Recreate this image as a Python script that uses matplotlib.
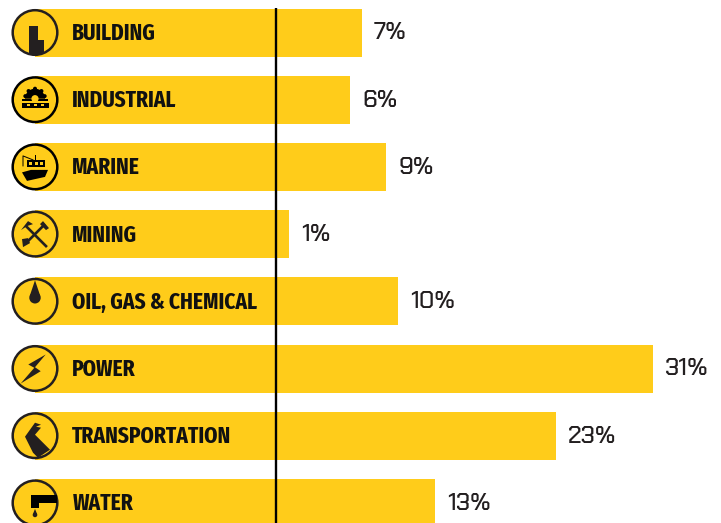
import matplotlib
matplotlib.use("Agg")
import matplotlib.pyplot as plt
from matplotlib.patches import Circle, Polygon, Rectangle, Wedge
import numpy as np

categories = ["BUILDING", "INDUSTRIAL", "MARINE", "MINING", "OIL, GAS & CHEMICAL",
              "POWER", "TRANSPORTATION", "WATER"]
shares = [7, 6, 9, 1, 10, 31, 23, 13]

YELLOW = "#FFCC1A"
DARK = "#231F20"
W, H = 721, 523
LABEL_FONT = ["Fira Sans Extra Condensed", "Roboto Condensed", "Roboto", "DejaVu Sans"]
VALUE_FONT = ["Chakra Petch", "Inter", "DejaVu Sans"]

fig = plt.figure(figsize=(W / 100, H / 100), dpi=100, facecolor="white")
# x: 0 % sits on the vertical rule; y: one unit per row
ax = fig.add_axes([0, 0, 1, 1])
x0, pxu = 277.2, 12.12
ax.set_xlim(-x0 / pxu, (W - x0) / pxu)
y0, row = 32.5, 67.2
ax.set_ylim((H - y0) / row, -y0 / row)
ax.axis("off")

start = -20.0
ys = np.arange(len(categories))
ax.barh(ys, [v - start for v in shares], left=start, height=48 / row, color=YELLOW, linewidth=0, zorder=1)
ax.plot([-0.14, -0.14], [-24 / row, len(categories)], color="black", lw=1.7, zorder=3, solid_capstyle="butt")
for y, c, v in zip(ys, categories, shares):
    ax.text(-16.9, y + 0.012, c, family=LABEL_FONT, weight="bold", fontsize=16.7, color="#111111",
            va="center", ha="left", zorder=4)
    ax.text(v + 1, y + 0.012, f"{v}%", family=VALUE_FONT, weight="medium", fontsize=17.5, color=DARK,
            va="center", ha="left", zorder=4)

# Icon overlay in figure pixels
ic = fig.add_axes([0, 0, 1, 1], facecolor="none")
ic.set_xlim(0, W); ic.set_ylim(H, 0); ic.axis("off")
cx = 35
centers = [y0 + row * i for i in range(8)]
for i, cy in enumerate(centers):
    ic.add_patch(Circle((cx, cy), 22.3, fc=YELLOW, ec="black" if i in (1, 2) else DARK, lw=1.8, zorder=5))

def poly(pts, cy, color=DARK):
    p = Polygon([(cx + a, cy + b) for a, b in pts], closed=True, fc=color, ec="none", zorder=6)
    ic.add_patch(p)
    return p

# building
poly([(-6, -7), (3, -7), (3, 7), (9, 7), (9, 21), (-6, 21)], centers[0])
# industrial: gear and conveyor
c = centers[1]
ic.add_patch(Wedge((cx, c - 1), 10, 180, 360, fc="black", zorder=6))
ic.add_patch(Circle((cx, c - 1), 3.6, fc=YELLOW, zorder=7))
for a in np.deg2rad([-165, -130, -90, -50, -15]):
    ic.add_patch(Circle((cx + 10 * np.cos(a), c - 1 + 10 * np.sin(a)), 2.0, fc="black", zorder=6))
ic.add_patch(Rectangle((cx - 13, c - 1), 26, 2, fc="black", zorder=6))
ic.add_patch(Rectangle((cx - 13.5, c + 3), 27, 5, fc="black", zorder=7))
for dx in (-8, -1, 6):
    ic.add_patch(Rectangle((cx + dx, c + 4.5), 3, 2, fc=YELLOW, zorder=8))
# marine
c = centers[2]
poly([(-13, 5.5), (-4, 3), (13, 3), (10, 10), (-8, 14)], c, "black")
poly([(-8, -7), (10, -7), (10, 0), (-8, 0)], c, "black")
for dx in (-5, 1, 6):
    ic.add_patch(Rectangle((cx + dx - 1, c - 5), 2.6, 3, fc=YELLOW, zorder=7))
poly([(0, -12), (1.4, -12), (1.4, -7), (0, -7)], c, "black")
ic.plot([cx - 12, cx - 12, cx - 2], [c - 1, c - 11, c - 7], color="black", lw=0.7, zorder=6)
# mining: crossed pick and shovel
c = centers[3]
ic.plot([cx - 8, cx + 11], [c - 7, c + 12], color=DARK, lw=1.9, zorder=6)
ic.plot([cx + 9, cx - 8], [c - 9, c + 8], color=DARK, lw=1.9, zorder=6)
poly([(-14, -4), (-7, -13), (-2, -10), (-8, -8)], c)
poly([(-13, 5), (-7, 4), (-5, 9), (-12, 13)], c)
poly([(5, -10), (8, -13), (14, -6), (11, -4)], c)
# oil drop
c = centers[4]
ic.add_patch(Circle((cx, c - 3.5), 5.7, fc=DARK, zorder=6))
poly([(0, -21), (5.4, -5), (-5.4, -5)], c)
# power bolt
poly([(10.7, -14), (-6.7, -4), (-0.7, -0.7), (-14.3, 15), (5.7, 2.7), (0, -1.3)], centers[5])
# transportation road
poly([(0, -13), (6, -11), (1, -9), (6, -8), (0, -1), (15, 14), (3, 22), (-2, 17), (-10, 1)], centers[6])
# water tap
c = centers[7]
poly([(-4, -8), (22, -8), (22, 0), (4, 0), (4, 5), (-4, 5)], c, "black")
ic.add_patch(Circle((cx, c + 12), 2.3, fc=DARK, zorder=6))
poly([(0, 6), (2, 11), (-2, 11)], c)

fig.savefig("out.png", dpi=100)
